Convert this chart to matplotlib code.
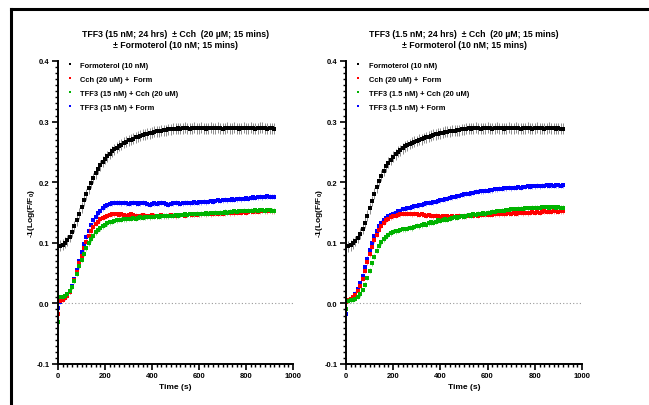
import numpy as np
import matplotlib
matplotlib.use("Agg")
import matplotlib.pyplot as plt
from matplotlib.lines import Line2D
from matplotlib.ticker import MultipleLocator

# Time grid (s): coloured series start at 0, formoterol alone starts at 10
time = np.arange(0, 930, 10)
time_form = np.arange(10, 930, 10)

# ---- left panel: TFF3 15 nM ----
left_form = [0.095, 0.097, 0.100, 0.104, 0.110, 0.118, 0.127, 0.137, 0.148, 0.159,
             0.170, 0.180, 0.190, 0.199, 0.207, 0.215, 0.222, 0.228, 0.234, 0.239,
             0.243, 0.247, 0.251, 0.254, 0.257, 0.260, 0.262, 0.265, 0.267, 0.269,
             0.270, 0.272, 0.274, 0.275, 0.277, 0.278, 0.279, 0.280, 0.281, 0.282,
             0.283, 0.284, 0.284, 0.285, 0.286, 0.286, 0.287, 0.287, 0.288, 0.288,
             0.289, 0.288, 0.289, 0.290, 0.289, 0.288, 0.289, 0.290, 0.289, 0.289,
             0.290, 0.289, 0.288, 0.289, 0.290, 0.289, 0.289, 0.290, 0.289, 0.288,
             0.289, 0.290, 0.289, 0.289, 0.290, 0.289, 0.288, 0.289, 0.290, 0.289,
             0.289, 0.290, 0.289, 0.288, 0.289, 0.290, 0.290, 0.289, 0.288, 0.289,
             0.289, 0.288]
left_cch = [-0.018, 0.004, 0.006, 0.009, 0.013, 0.019, 0.027, 0.038, 0.052, 0.066,
            0.079, 0.091, 0.102, 0.111, 0.119, 0.126, 0.131, 0.135, 0.139, 0.141,
            0.143, 0.145, 0.146, 0.147, 0.147, 0.147,
            0.146, 0.147, 0.146, 0.145, 0.146, 0.147, 0.146, 0.145, 0.144, 0.145,
            0.146, 0.145, 0.144, 0.145, 0.146, 0.145, 0.144, 0.145, 0.146, 0.145,
            0.144, 0.145, 0.146, 0.145, 0.144, 0.145, 0.146, 0.146, 0.145, 0.146,
            0.147, 0.146, 0.147, 0.146, 0.147,
            0.147, 0.148, 0.147, 0.148, 0.147, 0.148, 0.149, 0.148, 0.149, 0.148,
            0.149, 0.150, 0.149, 0.150, 0.149, 0.150, 0.151, 0.150, 0.151, 0.150,
            0.151, 0.152, 0.151, 0.152, 0.151, 0.152, 0.153, 0.152, 0.152, 0.153,
            0.152, 0.152]
left_tff_cch = [-0.030, 0.010, 0.011, 0.012, 0.015, 0.020, 0.027, 0.037, 0.049, 0.061,
                0.072, 0.082, 0.091, 0.099, 0.106, 0.112, 0.117, 0.121, 0.124, 0.127,
                0.130, 0.132, 0.134, 0.135, 0.136, 0.137,
                0.138, 0.138, 0.139, 0.139, 0.140, 0.140, 0.141, 0.140, 0.141, 0.142,
                0.141, 0.142, 0.143, 0.142, 0.143, 0.143, 0.144, 0.143, 0.144, 0.144,
                0.145, 0.144, 0.145, 0.145, 0.146, 0.145, 0.146, 0.146, 0.147, 0.146,
                0.147, 0.147, 0.147, 0.148, 0.147,
                0.148, 0.148, 0.149, 0.148, 0.149, 0.149, 0.150, 0.149, 0.150, 0.150,
                0.151, 0.150, 0.151, 0.151, 0.152, 0.151, 0.152, 0.152, 0.153, 0.152,
                0.153, 0.153, 0.153, 0.154, 0.153, 0.154, 0.154, 0.153, 0.154, 0.154,
                0.153, 0.153]
left_tff_form = [-0.008, 0.003, 0.006, 0.010, 0.014, 0.020, 0.028, 0.040, 0.055, 0.070,
                 0.085, 0.098, 0.110, 0.120, 0.129, 0.137, 0.143, 0.149, 0.153, 0.157,
                 0.160, 0.162, 0.164, 0.165, 0.166, 0.166,
                 0.166, 0.165, 0.166, 0.165, 0.164, 0.165, 0.166, 0.165, 0.164, 0.165,
                 0.166, 0.165, 0.164, 0.163, 0.164, 0.165, 0.164, 0.165, 0.166, 0.165,
                 0.164, 0.163, 0.164, 0.165, 0.166, 0.165, 0.164, 0.165, 0.166, 0.166,
                 0.165, 0.166, 0.167, 0.166, 0.167,
                 0.167, 0.168, 0.167, 0.168, 0.169, 0.168, 0.169, 0.170, 0.169, 0.170,
                 0.171, 0.170, 0.171, 0.172, 0.171, 0.172, 0.173, 0.172, 0.173, 0.174,
                 0.173, 0.174, 0.175, 0.174, 0.175, 0.176, 0.175, 0.176, 0.177, 0.176,
                 0.176, 0.176]

# ---- right panel: TFF3 1.5 nM ----
right_form = [0.094, 0.096, 0.099, 0.103, 0.108, 0.115, 0.123, 0.133, 0.145, 0.157,
              0.169, 0.181, 0.192, 0.202, 0.211, 0.219, 0.226, 0.232, 0.237, 0.242,
              0.246, 0.250, 0.253, 0.256, 0.259, 0.261, 0.263, 0.265, 0.267, 0.268,
              0.270, 0.271, 0.273, 0.274, 0.275, 0.277, 0.278, 0.279, 0.280, 0.281,
              0.282, 0.283, 0.283, 0.284, 0.285, 0.285, 0.286, 0.286, 0.287, 0.287,
              0.288, 0.289, 0.288, 0.289, 0.290, 0.289, 0.288, 0.289, 0.289, 0.290,
              0.289, 0.288, 0.289, 0.290, 0.289, 0.289, 0.288, 0.289, 0.290, 0.289,
              0.289, 0.290, 0.289, 0.288, 0.289, 0.289, 0.290, 0.289, 0.288, 0.289,
              0.290, 0.289, 0.289, 0.288, 0.289, 0.290, 0.289, 0.289, 0.288, 0.289,
              0.288, 0.288]
right_cch = [0.003, 0.005, 0.007, 0.010, 0.014, 0.020, 0.029, 0.041, 0.054, 0.068,
             0.081, 0.093, 0.104, 0.113, 0.121, 0.128, 0.133, 0.137, 0.140, 0.142,
             0.144, 0.145, 0.146, 0.147, 0.148, 0.148,
             0.148, 0.148, 0.147, 0.148, 0.147, 0.146, 0.147, 0.146, 0.145, 0.146,
             0.145, 0.144, 0.145, 0.144, 0.143, 0.144, 0.143, 0.144, 0.143, 0.144,
             0.143, 0.144, 0.145, 0.144, 0.145, 0.144, 0.145, 0.146, 0.145, 0.146,
             0.145, 0.146, 0.146, 0.147, 0.146,
             0.147, 0.146, 0.147, 0.148, 0.147, 0.148, 0.147, 0.148, 0.149, 0.148,
             0.149, 0.148, 0.149, 0.150, 0.149, 0.150, 0.149, 0.150, 0.151, 0.150,
             0.151, 0.150, 0.151, 0.152, 0.151, 0.152, 0.151, 0.152, 0.152, 0.151,
             0.152, 0.152]
right_tff_cch = [-0.010, 0.004, 0.005, 0.006, 0.008, 0.011, 0.015, 0.022, 0.031, 0.042,
                 0.054, 0.066, 0.077, 0.087, 0.095, 0.101, 0.106, 0.110, 0.113, 0.116,
                 0.118, 0.119, 0.120, 0.121, 0.122, 0.122,
                 0.123, 0.125, 0.124, 0.126, 0.128, 0.127, 0.129, 0.131, 0.130, 0.132,
                 0.134, 0.133, 0.135, 0.137, 0.136, 0.138, 0.139, 0.138, 0.140, 0.141,
                 0.142, 0.141, 0.143, 0.144, 0.143, 0.145, 0.146, 0.145, 0.147, 0.146,
                 0.148, 0.147, 0.149, 0.148, 0.150,
                 0.150, 0.151, 0.151, 0.152, 0.152, 0.153, 0.153, 0.154, 0.154, 0.155,
                 0.155, 0.155, 0.156, 0.156, 0.156, 0.157, 0.157, 0.157, 0.158, 0.158,
                 0.158, 0.158, 0.159, 0.159, 0.159, 0.158, 0.159, 0.159, 0.158, 0.159,
                 0.158, 0.158]
right_tff_form = [-0.017, 0.005, 0.007, 0.011, 0.016, 0.023, 0.033, 0.046, 0.060, 0.074,
                  0.088, 0.100, 0.111, 0.120, 0.127, 0.133, 0.137, 0.141, 0.144, 0.146,
                  0.148, 0.150, 0.152, 0.153, 0.155, 0.156,
                  0.157, 0.158, 0.159, 0.160, 0.161, 0.162, 0.163, 0.164, 0.165, 0.166,
                  0.166, 0.167, 0.168, 0.169, 0.170, 0.171, 0.172, 0.173, 0.174, 0.175,
                  0.176, 0.177, 0.178, 0.179, 0.180, 0.181, 0.181, 0.182, 0.183, 0.184,
                  0.184, 0.185, 0.185, 0.186, 0.186,
                  0.187, 0.187, 0.188, 0.188, 0.189, 0.189, 0.190, 0.190, 0.191, 0.190,
                  0.191, 0.191, 0.192, 0.191, 0.192, 0.192, 0.193, 0.192, 0.193, 0.193,
                  0.194, 0.193, 0.194, 0.194, 0.195, 0.194, 0.195, 0.194, 0.195, 0.195,
                  0.194, 0.195]

# SEM per series (formoterol, cch, tff+cch, tff+form)
sem = [0.009, 0.004, 0.004, 0.004]
colors = ["#000000", "#ff0000", "#00b300", "#0000ff"]
err_colors = ["#7a7a7a", "#ff8888", "#77d477", "#8888ff"]

titles = ["TFF3 (15 nM; 24 hrs)  \u00b1 Cch  (20 \u00b5M; 15 mins)\n\u00b1 Formoterol (10 nM; 15 mins)",
          "TFF3 (1.5 nM; 24 hrs)  \u00b1 Cch  (20 \u00b5M; 15 mins)\n\u00b1 Formoterol (10 nM; 15 mins)"]
labels_left = ["Formoterol (10 nM)", "Cch (20 uM) +  Form",
               "TFF3 (15 nM) + Cch (20 uM)", "TFF3 (15 nM) + Form"]
labels_right = ["Formoterol (10 nM)", "Cch (20 uM) +  Form",
                "TFF3 (1.5 nM) + Cch (20 uM)", "TFF3 (1.5 nM) + Form"]


def draw_panel(ax, series, title, labels):
    ax.plot([0, 1000], [0, 0], ls=(0, (1, 2)), color="#999999", lw=0.8, zorder=1)
    order = [0, 3, 1, 2]
    for i in order:
        t = time_form if i == 0 else time
        ax.errorbar(t, series[i], yerr=sem[i], fmt="s", ms=2.2, mew=0,
                    color=colors[i], ecolor=err_colors[i], elinewidth=0.6,
                    capsize=1.5, capthick=0.6, zorder=2)
    ax.set_xlim(0, 1000)
    ax.set_ylim(-0.1, 0.4)
    ax.xaxis.set_major_locator(MultipleLocator(200))
    ax.xaxis.set_minor_locator(MultipleLocator(20))
    ax.yaxis.set_minor_locator(MultipleLocator(0.01))
    ax.set_yticks([-0.1, 0.0, 0.1, 0.2, 0.3, 0.4])
    ax.set_yticklabels(["-0.1", "0.0", "0.1", "0.2", "0.3", "0.4"])
    for s in ["top", "right"]:
        ax.spines[s].set_visible(False)
    for s in ["left", "bottom"]:
        ax.spines[s].set_linewidth(1.4)
    ax.tick_params(which="major", direction="out", length=4, width=1.2,
                   labelsize=5.5, pad=2)
    ax.tick_params(which="minor", direction="out", length=2.5, width=1.0)
    for lab in ax.get_xticklabels() + ax.get_yticklabels():
        lab.set_fontweight("bold")
    ax.set_xlabel("Time (s)", fontsize=6, fontweight="bold", labelpad=3)
    ax.set_ylabel(r"-1(Log(F/F$_0$)", fontsize=6, fontweight="bold")
    ax.yaxis.set_label_coords(-0.09, 0.5)
    ax.set_title(title, fontsize=6.3, fontweight="bold", pad=10, linespacing=1.35)
    handles = [Line2D([], [], ls="", marker="s", ms=2, mew=0, color=c) for c in colors]
    ax.legend(handles, labels, loc="upper left", bbox_to_anchor=(0.035, 0.998),
              frameon=False, prop={"weight": "bold", "size": 5.4},
              handlelength=0.9, handletextpad=1.0, labelspacing=0.9,
              borderpad=0, borderaxespad=0)


def main():
    plt.rcParams["font.family"] = ["Liberation Sans", "DejaVu Sans"]
    plt.rcParams["mathtext.fontset"] = "custom"
    plt.rcParams["mathtext.rm"] = "Liberation Sans:bold"
    plt.rcParams["mathtext.it"] = "Liberation Sans:bold"
    plt.rcParams["mathtext.bf"] = "Liberation Sans:bold"
    plt.rcParams["mathtext.default"] = "bf"

    fig = plt.figure(figsize=(6.49, 4.06), dpi=100)
    ax1 = fig.add_axes([58 / 649, 41 / 406, 235 / 649, 303 / 406])
    ax2 = fig.add_axes([346 / 649, 41 / 406, 236 / 649, 303 / 406])

    draw_panel(ax1, [left_form, left_cch, left_tff_cch, left_tff_form], titles[0], labels_left)
    draw_panel(ax2, [right_form, right_cch, right_tff_cch, right_tff_form], titles[1], labels_right)

    # outer frame lines (top and left)
    fig.add_artist(Line2D([11 / 649, 1.0], [1 - 10 / 406, 1 - 10 / 406],
                          color="black", lw=2.2, transform=fig.transFigure))
    fig.add_artist(Line2D([11 / 649, 11 / 649], [0, 1 - 10 / 406],
                          color="black", lw=2.2, transform=fig.transFigure))

    fig.savefig("out.png", dpi=100)


if __name__ == "__main__":
    main()
